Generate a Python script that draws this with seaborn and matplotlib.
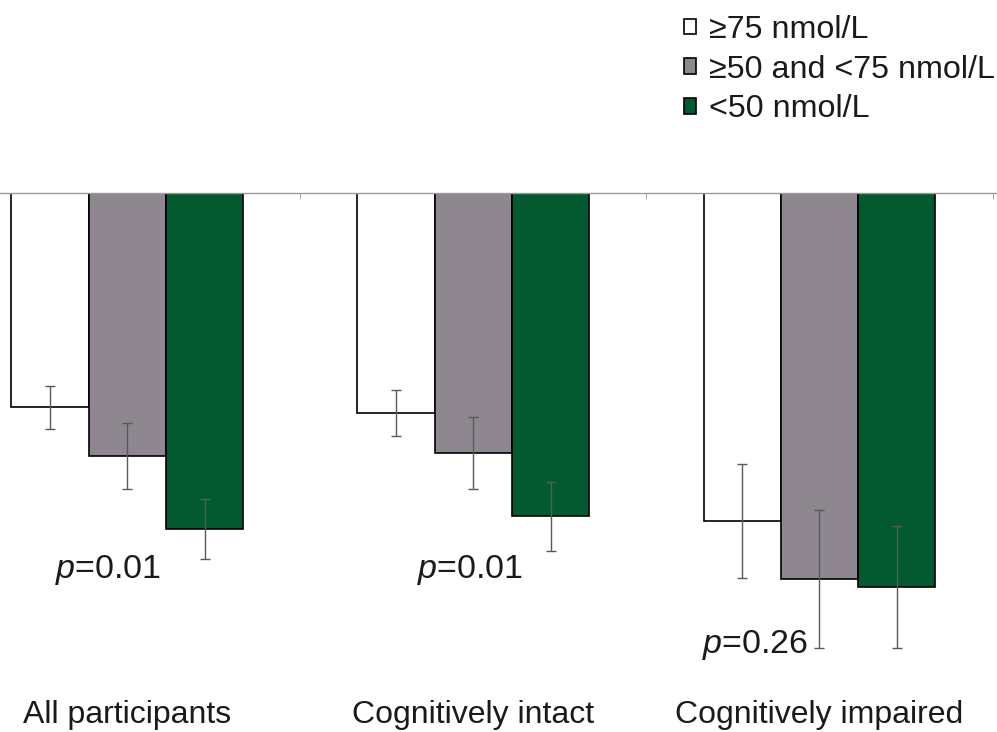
import numpy as np
import pandas as pd
import matplotlib
matplotlib.use("Agg")
import matplotlib.pyplot as plt
import seaborn as sns

# data (arbitrary units, bars hang down from zero)
groups = ["All participants", "Cognitively intact", "Cognitively impaired"]
levels = ["\u226575 nmol/L", "\u226550 and <75 nmol/L", "<50 nmol/L"]
ge75 = [-2.14, -2.20, -3.28]
mid = [-2.63, -2.60, -3.86]
lt50 = [-3.36, -3.23, -3.94]
ge75_err = [0.215, 0.23, 0.57]
mid_err = [0.33, 0.36, 0.69]
lt50_err = [0.30, 0.345, 0.61]
p_labels = ["0.01", "0.01", "0.26"]
p_x = [-0.21, 0.837, 1.66]
p_y = [-3.85, -3.85, -4.60]

colors = ["#ffffff", "#8e8790", "#035a31"]
text_color = "#1a1a1a"

df = pd.DataFrame({
    "group": groups * 3,
    "level": np.repeat(levels, len(groups)),
    "value": ge75 + mid + lt50,
})
errs = [ge75_err, mid_err, lt50_err]

sns.set_style("white")
plt.rcParams["font.family"] = ["Liberation Sans", "DejaVu Sans"]
plt.rcParams["mathtext.fontset"] = "custom"
plt.rcParams["mathtext.it"] = "Liberation Sans:italic"
plt.rcParams["mathtext.rm"] = "Liberation Sans"
plt.rcParams["text.color"] = text_color
plt.rcParams["xtick.color"] = text_color

fig = plt.figure(figsize=(9.97, 7.32), dpi=100)
bottom_px, top_px = 672, 193
ax = fig.add_axes([0, (732 - bottom_px) / 732, 1, (bottom_px - top_px) / 732])

sns.barplot(data=df, x="group", y="value", hue="level", palette=colors,
            edgecolor="black", linewidth=1.2, width=0.67, errorbar=None,
            saturation=1, ax=ax)

# error bars drawn on top of the bars
for cont, e in zip(ax.containers, errs):
    xs = [p.get_x() + p.get_width() / 2 for p in cont]
    ax.errorbar(xs, cont.datavalues, yerr=e, fmt="none", ecolor="#5a5a5a",
                elinewidth=1.0, capsize=3.5, capthick=1.0, zorder=5)

for x, y, lab in zip(p_x, p_y, p_labels):
    ax.text(x, y, f"$p$={lab}", fontsize=24.5, ha="left", va="baseline")

ax.set_xlim(-0.368, 2.513)
ax.set_ylim(-(bottom_px - top_px) / 100, 0)
ax.set_xlabel("")
ax.set_ylabel("")
ax.set_yticks([])
for s in ["left", "right", "bottom"]:
    ax.spines[s].set_visible(False)
ax.spines["top"].set_color("#9a9a9a")
ax.spines["top"].set_linewidth(1.0)
ax.tick_params(axis="x", which="major", length=0, labelsize=23, pad=20,
               labelcolor=text_color)
ax.set_xticks([0.5, 1.5, 2.5], minor=True)
ax.tick_params(axis="x", which="minor", top=True, bottom=False,
               direction="in", length=4, color="#9a9a9a")

handles, labels = ax.get_legend_handles_labels()
ax.get_legend().remove()
fig.legend(handles, labels, loc="upper left", bbox_to_anchor=(684 / 997, 1 - 15 / 732),
           frameon=False, fontsize=23.2, handlelength=0.38, handleheight=0.38,
           handletextpad=0.4, labelspacing=0.3, borderpad=0, borderaxespad=0)

fig.savefig("out.png", dpi=100)
